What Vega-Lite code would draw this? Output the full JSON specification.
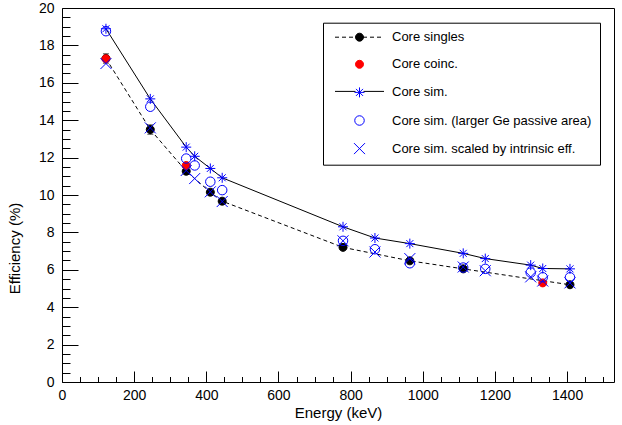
{
  "$schema": "https://vega.github.io/schema/vega-lite/v6.json",
  "width": 552,
  "height": 374,
  "autosize": {"type": "none"},
  "padding": {"left": 62, "top": 8, "right": 8, "bottom": 43},
  "background": "white",
  "config": {
    "view": {"stroke": "black", "strokeWidth": 1},
    "font": "Liberation Sans",
    "axis": {
      "domain": false,
      "grid": false,
      "labelFont": "Liberation Sans",
      "labelFontSize": 14,
      "labelColor": "black",
      "labelFlush": false,
      "labelOverlap": false,
      "labelBound": false,
      "tickColor": "black",
      "tickWidth": 1,
      "titleFont": "Liberation Sans",
      "titleFontSize": 15,
      "titleFontWeight": "normal",
      "titleColor": "black"
    }
  },
  "datasets": {
    "pts": [
      {"series": "Core singles", "energy": 121.8, "eff": 17.3, "err": 0.25},
      {"series": "Core singles", "energy": 244.7, "eff": 13.5, "err": 0.25},
      {"series": "Core singles", "energy": 344.3, "eff": 11.27, "err": 0.15},
      {"series": "Core singles", "energy": 411.1, "eff": 10.15, "err": 0.15},
      {"series": "Core singles", "energy": 444.0, "eff": 9.67, "err": 0.15},
      {"series": "Core singles", "energy": 778.9, "eff": 7.2, "err": 0.1},
      {"series": "Core singles", "energy": 964.1, "eff": 6.48, "err": 0.1},
      {"series": "Core singles", "energy": 1112.1, "eff": 6.05, "err": 0.1},
      {"series": "Core singles", "energy": 1408.0, "eff": 5.2, "err": 0.1},
      {"series": "Core coinc.", "energy": 121.8, "eff": 17.28, "err": 0.2},
      {"series": "Core coinc.", "energy": 344.3, "eff": 11.58, "err": 0.15},
      {"series": "Core coinc.", "energy": 1332.5, "eff": 5.3, "err": 0.1},
      {"series": "Core sim.", "energy": 121.8, "eff": 18.89},
      {"series": "Core sim.", "energy": 244.7, "eff": 15.14},
      {"series": "Core sim.", "energy": 344.3, "eff": 12.56},
      {"series": "Core sim.", "energy": 367.8, "eff": 12.07},
      {"series": "Core sim.", "energy": 411.1, "eff": 11.42},
      {"series": "Core sim.", "energy": 444.0, "eff": 10.92},
      {"series": "Core sim.", "energy": 778.9, "eff": 8.3},
      {"series": "Core sim.", "energy": 867.4, "eff": 7.7},
      {"series": "Core sim.", "energy": 964.1, "eff": 7.4},
      {"series": "Core sim.", "energy": 1112.1, "eff": 6.88},
      {"series": "Core sim.", "energy": 1173.2, "eff": 6.6},
      {"series": "Core sim.", "energy": 1299.1, "eff": 6.25},
      {"series": "Core sim.", "energy": 1332.5, "eff": 6.07},
      {"series": "Core sim.", "energy": 1408.0, "eff": 6.05},
      {"series": "Core sim. (larger Ge passive area)", "energy": 121.8, "eff": 18.76},
      {"series": "Core sim. (larger Ge passive area)", "energy": 244.7, "eff": 14.72},
      {"series": "Core sim. (larger Ge passive area)", "energy": 344.3, "eff": 11.95},
      {"series": "Core sim. (larger Ge passive area)", "energy": 367.8, "eff": 11.58},
      {"series": "Core sim. (larger Ge passive area)", "energy": 411.1, "eff": 10.71},
      {"series": "Core sim. (larger Ge passive area)", "energy": 444.0, "eff": 10.26},
      {"series": "Core sim. (larger Ge passive area)", "energy": 778.9, "eff": 7.55},
      {"series": "Core sim. (larger Ge passive area)", "energy": 867.4, "eff": 7.1},
      {"series": "Core sim. (larger Ge passive area)", "energy": 964.1, "eff": 6.35},
      {"series": "Core sim. (larger Ge passive area)", "energy": 1112.1, "eff": 6.12},
      {"series": "Core sim. (larger Ge passive area)", "energy": 1173.2, "eff": 6.05},
      {"series": "Core sim. (larger Ge passive area)", "energy": 1299.1, "eff": 5.85},
      {"series": "Core sim. (larger Ge passive area)", "energy": 1332.5, "eff": 5.6},
      {"series": "Core sim. (larger Ge passive area)", "energy": 1408.0, "eff": 5.6},
      {"series": "Core sim. scaled by intrinsic eff.", "energy": 121.8, "eff": 17.03},
      {"series": "Core sim. scaled by intrinsic eff.", "energy": 244.7, "eff": 13.59},
      {"series": "Core sim. scaled by intrinsic eff.", "energy": 344.3, "eff": 11.31},
      {"series": "Core sim. scaled by intrinsic eff.", "energy": 367.8, "eff": 10.88},
      {"series": "Core sim. scaled by intrinsic eff.", "energy": 411.1, "eff": 10.17},
      {"series": "Core sim. scaled by intrinsic eff.", "energy": 444.0, "eff": 9.65},
      {"series": "Core sim. scaled by intrinsic eff.", "energy": 778.9, "eff": 7.55},
      {"series": "Core sim. scaled by intrinsic eff.", "energy": 867.4, "eff": 6.95},
      {"series": "Core sim. scaled by intrinsic eff.", "energy": 964.1, "eff": 6.6},
      {"series": "Core sim. scaled by intrinsic eff.", "energy": 1112.1, "eff": 6.15},
      {"series": "Core sim. scaled by intrinsic eff.", "energy": 1173.2, "eff": 5.95},
      {"series": "Core sim. scaled by intrinsic eff.", "energy": 1299.1, "eff": 5.62},
      {"series": "Core sim. scaled by intrinsic eff.", "energy": 1332.5, "eff": 5.4},
      {"series": "Core sim. scaled by intrinsic eff.", "energy": 1408.0, "eff": 5.3}
    ]
  },
  "data": {"name": "pts"},
  "encoding": {
    "x": {"field": "energy", "type": "quantitative", "scale": {"domain": [0, 1530], "nice": false, "zero": false}, "axis": null},
    "y": {"field": "eff", "type": "quantitative", "scale": {"domain": [0, 20], "nice": false, "zero": false}, "axis": null}
  },
  "resolve": {"axis": {"x": "independent", "y": "independent"}},
  "layer": [
    {
      "transform": [{"filter": "datum.series === 'Core singles'"}],
      "mark": {"type": "line", "color": "black", "strokeWidth": 1, "strokeDash": [4, 3]},
      "encoding": {
        "x": {
          "field": "energy", "type": "quantitative",
          "scale": {"domain": [0, 1530], "nice": false, "zero": false},
          "axis": {
            "orient": "bottom",
            "title": "Energy (keV)",
            "values": [0, 200, 400, 600, 800, 1000, 1200, 1400],
            "format": "d",
            "ticks": false,
            "tickSize": 0,
            "labelPadding": 6,
            "titleX": 276,
            "titleY": 35,
            "titleAlign": "center",
            "titleBaseline": "alphabetic"
          }
        },
        "y": {
          "field": "eff", "type": "quantitative",
          "scale": {"domain": [0, 20], "nice": false, "zero": false},
          "axis": {
            "orient": "left",
            "title": "Efficiency (%)",
            "values": [0, 2, 4, 6, 8, 10, 12, 14, 16, 18, 20],
            "format": "d",
            "ticks": false,
            "tickSize": 0,
            "labelPadding": 8,
            "titleX": -48,
            "titleY": 240,
            "titleAngle": -90,
            "titleAlign": "center",
            "titleBaseline": "middle"
          }
        }
      }
    },
    {
      "transform": [{"filter": "datum.series === 'Core sim.'"}],
      "mark": {"type": "line", "color": "black", "strokeWidth": 1},
      "encoding": {
        "x": {
          "field": "energy", "type": "quantitative",
          "scale": {"domain": [0, 1530], "nice": false, "zero": false},
          "axis": {"orient": "bottom", "title": null, "labels": false, "values": [0, 200, 400, 600, 800, 1000, 1200, 1400], "tickSize": -11}
        },
        "y": {
          "field": "eff", "type": "quantitative",
          "scale": {"domain": [0, 20], "nice": false, "zero": false},
          "axis": {"orient": "left", "title": null, "labels": false, "values": [0, 2, 4, 6, 8, 10, 12, 14, 16, 18, 20], "tickSize": -16}
        }
      }
    },
    {
      "transform": [{"filter": "datum.series === 'Core singles'"}],
      "mark": {"type": "errorbar", "color": "black", "ticks": {"size": 6, "color": "black"}, "thickness": 1},
      "encoding": {
        "x": {
          "field": "energy", "type": "quantitative",
          "scale": {"domain": [0, 1530], "nice": false, "zero": false},
          "axis": {"orient": "bottom", "title": null, "labels": false, "values": [50,100,150,250,300,350,450,500,550,650,700,750,850,900,950,1050,1100,1150,1250,1300,1350,1450,1500], "tickSize": -5.5}
        },
        "y": {
          "field": "eff", "type": "quantitative",
          "scale": {"domain": [0, 20], "nice": false, "zero": false},
          "axis": {"orient": "left", "title": null, "labels": false, "values": [0.5,1,1.5,2.5,3,3.5,4.5,5,5.5,6.5,7,7.5,8.5,9,9.5,10.5,11,11.5,12.5,13,13.5,14.5,15,15.5,16.5,17,17.5,18.5,19,19.5], "tickSize": -8}
        },
        "yError": {"field": "err"}
      }
    },
    {
      "transform": [{"filter": "false"}],
      "mark": {"type": "line", "color": "black", "strokeWidth": 1},
      "encoding": {
        "strokeDash": {
          "field": "series", "type": "nominal",
          "scale": {"domain": ["Core singles", "Core coinc.", "Core sim."], "range": [[4, 3], [0, 100], [20.5, 8, 100]]},
          "legend": {
            "orient": "none",
            "legendX": 261,
            "legendY": 14.7,
            "title": null,
            "strokeColor": null,
            "fillColor": null,
            "padding": 8,
            "symbolType": "M-4.9,0L4.9,0",
            "symbolSize": 100,
            "symbolStrokeWidth": 1,
            "symbolStrokeColor": "black",
            "symbolOpacity": 1,
            "symbolOffset": 22,
            "labelOffset": 26,
            "rowPadding": 13.1,
            "labelFontSize": 13,
            "labelExpr": "''"
          }
        }
      }
    },
    {
      "mark": {"type": "point", "size": 100, "strokeWidth": 1, "opacity": 1},
      "encoding": {
        "shape": {
          "field": "series", "type": "nominal",
          "scale": {
            "domain": ["Core singles", "Core coinc.", "Core sim.", "Core sim. (larger Ge passive area)", "Core sim. scaled by intrinsic eff."],
            "range": [
              "M0.8,0A0.8,0.8 0 1,1 -0.8,0A0.8,0.8 0 1,1 0.8,0Z",
              "M0.8,0A0.8,0.8 0 1,1 -0.8,0A0.8,0.8 0 1,1 0.8,0Z",
              "M-1,0L1,0M0,-1L0,1M-0.7,-0.7L0.7,0.7M-0.7,0.7L0.7,-0.7",
              "M0.95,0A0.95,0.95 0 1,1 -0.95,0A0.95,0.95 0 1,1 0.95,0Z",
              "M-1.1,-1.1L1.1,1.1M-1.1,1.1L1.1,-1.1"
            ]
          },
          "legend": {
            "orient": "none",
            "legendX": 261,
            "legendY": 14.7,
            "title": null,
            "strokeColor": "black",
            "fillColor": null,
            "padding": 8,
            "cornerRadius": 0,
            "symbolSize": 100,
            "symbolStrokeWidth": 1,
            "symbolOffset": 22,
            "labelOffset": 26,
            "rowPadding": 13.1,
            "labelFont": "Liberation Sans",
            "labelFontSize": 13,
            "labelColor": "black",
            "labelLimit": 400,
            "labelExpr": "indexof(datum.label, 'larger') >= 0 || indexof(datum.label, 'scaled') >= 0 ? '\u00a0' + datum.label : datum.label"
          }
        },
        "fill": {
          "field": "series", "type": "nominal",
          "scale": {
            "domain": ["Core singles", "Core coinc.", "Core sim.", "Core sim. (larger Ge passive area)", "Core sim. scaled by intrinsic eff."],
            "range": ["black", "red", "transparent", "transparent", "transparent"]
          },
          "legend": null
        },
        "stroke": {
          "field": "series", "type": "nominal",
          "scale": {
            "domain": ["Core singles", "Core coinc.", "Core sim.", "Core sim. (larger Ge passive area)", "Core sim. scaled by intrinsic eff."],
            "range": ["black", "red", "blue", "blue", "blue"]
          },
          "legend": null
        }
      }
    }
  ]
}
